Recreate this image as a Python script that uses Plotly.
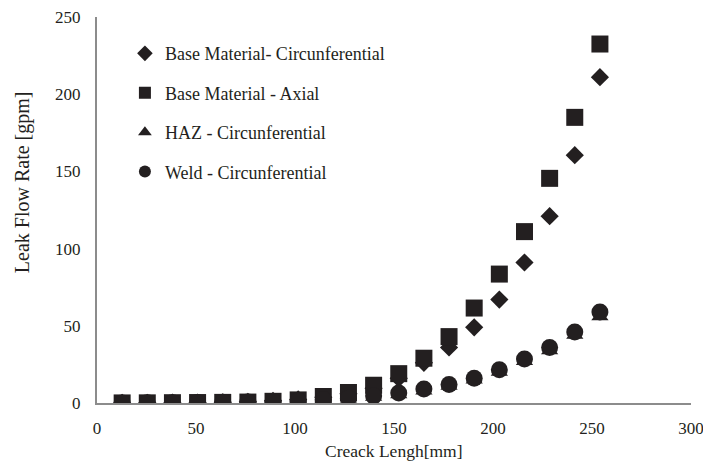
import plotly.graph_objects as go

# Crack length (mm) - half-inch steps
crack_length = [12.7, 25.4, 38.1, 50.8, 63.5, 76.2, 88.9, 101.6, 114.3, 127.0,
                139.7, 152.4, 165.1, 177.8, 190.5, 203.2, 215.9, 228.6, 241.3, 254.0]

# Leak flow rate (gpm)
base_circ = [0.05, 0.1, 0.2, 0.3, 0.5, 0.8, 1.4, 2.3, 3.8, 6.0,
             9.5, 16, 26, 36, 49, 67, 91, 121, 160.5, 211]
base_axial = [0.05, 0.1, 0.2, 0.3, 0.4, 0.6, 1.1, 2.0, 4.2, 6.8,
              11.5, 19, 29, 43, 61.5, 83.5, 111, 145.5, 185, 232.5]
haz_circ = [0.03, 0.08, 0.15, 0.25, 0.35, 0.55, 0.9, 1.3, 1.9, 2.7,
            3.9, 5.5, 8.0, 11.0, 15.0, 20.0, 27.0, 34.0, 44.0, 56.0]
weld_circ = [0.05, 0.1, 0.2, 0.3, 0.45, 0.7, 1.0, 1.5, 2.2, 3.1,
             4.5, 6.5, 9.0, 12.0, 16.0, 21.5, 28.5, 36.0, 46.0, 59.0]

series = [
    ("Base Material- Circunferential", base_circ, "diamond", 14),
    ("Base Material - Axial", base_axial, "square", 17),
    ("HAZ - Circunferential", haz_circ, "triangle-up", 15),
    ("Weld - Circunferential", weld_circ, "circle", 17),
]

ink = "#231f20"
serif = "Liberation Serif, Times New Roman, serif"

fig = go.Figure()
for i, (name, vals, sym, size) in enumerate(series):
    fig.add_trace(go.Scatter(
        x=crack_length, y=vals, mode="markers", name=name,
        legendgroup=f"g{i}",
        marker=dict(symbol=sym, size=size, color=ink, line=dict(width=0)),
    ))

fig.update_layout(
    width=703, height=465,
    margin=dict(l=97, r=12, t=17, b=62),
    paper_bgcolor="white", plot_bgcolor="white",
    font=dict(family=serif, size=17, color=ink),
    showlegend=True,
    legend=dict(
        x=0.047, y=0.953, xanchor="left", yanchor="top",
        traceorder="grouped", tracegroupgap=13,
        font=dict(size=18),
        bgcolor="rgba(0,0,0,0)", itemwidth=30, itemsizing="constant",
    ),
    xaxis=dict(
        range=[0, 300], tickvals=[0, 50, 100, 150, 200, 250, 300],
        showgrid=False, zeroline=False, showline=True,
        linecolor="#8c8c8c", linewidth=2, ticks="",
        ticklabelstandoff=9, ticklabeloverflow="allow", automargin=False,
        tickfont=dict(size=17),
    ),
    yaxis=dict(
        range=[0, 250], tickvals=[0, 50, 100, 150, 200, 250],
        showgrid=False, zeroline=False, showline=True,
        linecolor="#8c8c8c", linewidth=2, ticks="",
        ticklabelstandoff=11, automargin=False,
        tickfont=dict(size=17),
    ),
    annotations=[
        dict(text="Leak Flow Rate [gpm]", textangle=-90,
             xref="paper", yref="paper", x=-0.126, y=0.5725,
             xanchor="center", yanchor="middle", showarrow=False,
             font=dict(size=20)),
        dict(text="Creack Lengh[mm]",
             xref="paper", yref="paper", x=0.5, y=-0.124,
             xanchor="center", yanchor="middle", showarrow=False,
             font=dict(size=17.5)),
    ],
)

fig.write_html("out.html")
